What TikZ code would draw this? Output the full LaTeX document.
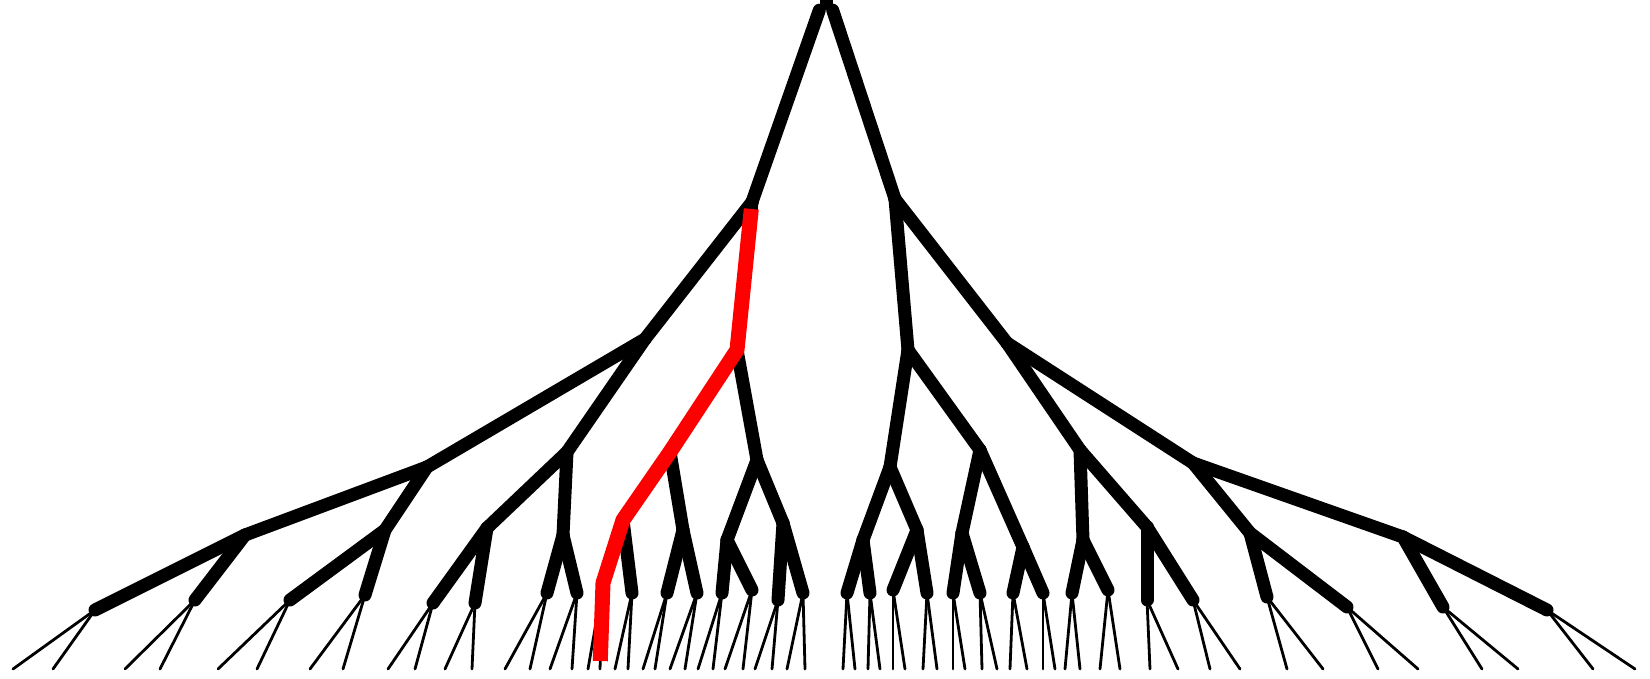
\documentclass[tikz,border=0pt]{standalone}
\tikzset{
rootbar/.style = {fill=black, rectangle, inner sep=0pt, minimum width=13pt, minimum height=10pt},
branch/.style = {line width=13pt, line cap=round, line join=round},
twig/.style = {line width=2.8pt, line cap=round},
trail/.style = {red, line width=15pt, line join=round, shorten <=7pt, shorten >=8pt},
}
\begin{document}
\begin{tikzpicture}[x=1pt, y=-1pt]
  \useasboundingbox (0,0) rectangle (1650,679);
  \node [rootbar] (r) at (826,5) {};
  \coordinate (r0) at (752,202);
  \coordinate (r1) at (895,199);
  \draw [branch] (r0) -- (r.south west);
  \draw [branch] (r1) -- (r.south east);
  % branches, level by level
  \foreach \p/\c/\x/\y in {
      r0/r00/645/339, r0/r01/737/350, r1/r10/908/350, r1/r11/1007/343,
      r00/r000/427/467, r00/r001/567/452, r01/r010/670/452, r01/r011/757/460,
      r10/r100/890/467, r10/r101/980/450, r11/r110/1080/450, r11/r111/1193/463,
      r000/r0000/245/535, r000/r0001/385/530, r001/r0010/487/528, r001/r0011/563/535,
      r010/r0100/623/520, r010/r0101/683/530, r011/r0110/727/540, r011/r0111/783/523,
      r100/r1000/863/540, r100/r1001/917/530, r101/r1010/962/533, r101/r1011/1023/547,
      r110/r1100/1083/540, r110/r1101/1147/527, r111/r1110/1250/533, r111/r1111/1403/537,
      r0000/r00000/95/610, r0000/r00001/195/600, r0001/r00010/290/600, r0001/r00011/365/595,
      r0010/r00100/433/603, r0010/r00101/475/603, r0011/r00110/547/593, r0011/r00111/577/593,
      r0100/r01000/603/583, r0100/r01001/632/593, r0101/r01010/667/593, r0101/r01011/697/593,
      r0110/r01100/722/593, r0110/r01101/752/590, r0111/r01110/778/600, r0111/r01111/803/593,
      r1000/r10000/847/593, r1000/r10001/870/593, r1001/r10010/893/590, r1001/r10011/927/593,
      r1010/r10100/953/593, r1010/r10101/980/593, r1011/r10110/1013/593, r1011/r10111/1043/593,
      r1100/r11000/1072/593, r1100/r11001/1108/590, r1101/r11010/1147/600, r1101/r11011/1193/600,
      r1110/r11100/1267/597, r1110/r11101/1347/607, r1111/r11110/1443/607, r1111/r11111/1547/610}
    {\coordinate (\c) at (\x,\y);
     \draw [branch] (\p) -- (\c);}
  % leaves
  \foreach \p/\a/\b in {r00000/13/53, r00001/125/160, r00010/218/257, r00011/310/343,
      r00100/388/415, r00101/445/472, r00110/505/530, r00111/550/572,
      r01000/588/600, r01001/615/628, r01010/643/655, r01011/670/685,
      r01100/698/713, r01101/725/743, r01110/755/772, r01111/787/805,
      r10000/843/855, r10001/868/880, r10010/893/905, r10011/923/937,
      r10100/953/965, r10101/982/997, r10110/1010/1027, r10111/1043/1055,
      r11000/1065/1080, r11001/1100/1120, r11010/1150/1178, r11011/1210/1240,
      r11100/1287/1323, r11101/1378/1418, r11110/1482/1518, r11111/1593/1635}
    {\coordinate (\p0) at (\a,669);
     \coordinate (\p1) at (\b,669);
     \draw [twig] (\p) -- (\p0);
     \draw [twig] (\p) -- (\p1);}
  \draw [trail] (r0) -- (r01) -- (r010) -- (r0100) -- (r01000) -- (r010001);
\end{tikzpicture}
\end{document}
